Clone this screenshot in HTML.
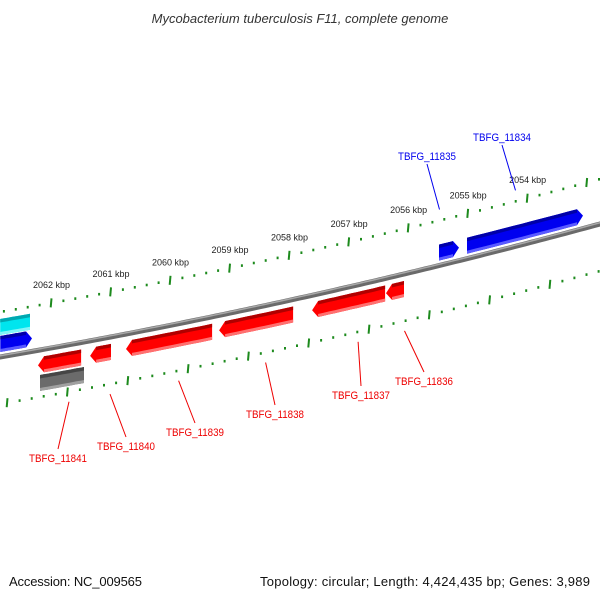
<!DOCTYPE html>
<html><head><meta charset="utf-8"><style>
body{margin:0;background:#fff}
svg{display:block}
</style></head><body>
<svg id="map" width="600" height="600" viewBox="0 0 600 600" xmlns="http://www.w3.org/2000/svg" font-family="Liberation Sans, DejaVu Sans, sans-serif">
<rect width="600" height="600" fill="#fff"/>
<text x="300" y="23" text-anchor="middle" font-size="13" font-style="italic" fill="#333">Mycobacterium tuberculosis F11, complete genome</text>
<g id="ticks"></g><g id="backbone"></g><g id="genes"></g><g id="labels"></g>
<text x="9" y="586" font-size="13" fill="#111" textLength="133">Accession: NC_009565</text>
<text x="590" y="586" text-anchor="end" font-size="13" fill="#111" textLength="330">Topology: circular; Length: 4,424,435 bp; Genes: 3,989</text>
</svg>
<script>
const tickLabelKbp = [2062, 2061, 2060, 2059, 2058, 2057, 2056, 2055, 2054];
const geneNames = ['TBFG_11834','TBFG_11835','TBFG_11836','TBFG_11837','TBFG_11838','TBFG_11839','TBFG_11840','TBFG_11841','gene-cyan','gene-blue-left','gene-gray'];
const geneStart = [2054.795,2055.263,2055.950,2057.182,2058.730,2060.281,2060.880,2061.747,2062.74,2062.60,2061.571];
const geneEnd   = [2052.855,2054.929,2055.650,2055.966,2057.497,2058.847,2060.531,2061.030,2062.24,2062.07,2060.840];
const geneStrand = [1,1,-1,-1,-1,-1,-1,-1,0,1,0];
const geneLabelled = [true,true,true,true,true,true,true,true,false,false,false];
// layout (not data)
const rowOff = {fwd:-13, rev:15};
const labelPos = [[502,141],[427,160],[424,385],[361,399],[275,418],[195,436],[126,450],[58,462]];

const NS='http://www.w3.org/2000/svg';
function mk(tag, attrs, parent){const e=document.createElementNS(NS,tag);for(const k in attrs)e.setAttribute(k,attrs[k]);parent.appendChild(e);return e;}
function yb(x){return 357-0.1717*x-0.0000833*x*x;}
function xAt(k,off){const a=30-0.478*off, s=59.9+0.0087*off;return a+(2062-k)*s;}
function pt(k,off){const x=xAt(k,off);return [x,yb(x)+off];}

// backbone
const bb=document.getElementById('backbone');
let d='';for(let x=-5;x<=605;x+=5){d+=(x===-5?'M':'L')+x+','+yb(x).toFixed(2)+' ';}
let p=mk('path',{d:d,stroke:'#6a6a6a','stroke-width':5,fill:'none'},bb);

p=mk('path',{d:d,stroke:'#a8a8a8','stroke-width':1.5,fill:'none',transform:'translate(0,-1.3)'},bb);


// ticks
const tg=document.getElementById('ticks');
[-45,47].forEach((off,ti)=>{
  for(let i=0;i<=60;i++){
    const k=2064-i*0.2;const major=Math.abs(k-Math.round(k))<0.01;
    const [x,y]=pt(k,off);if(x<-2||x>602)continue;
    const h=major?4.5:1.3;
    const l=mk('line',{x1:x.toFixed(1),y1:(y-h).toFixed(1),x2:(x+(major?-0.8:0)).toFixed(1),y2:(y+h).toFixed(1),stroke:'#1d8a1d','stroke-width':2},tg);
    
    
  }
});
tickLabelKbp.forEach(k=>{const [x,y]=pt(k,-45);
  const t=mk('text',{x:x.toFixed(1),y:(y-15).toFixed(1),'text-anchor':'middle','font-size':9,fill:'#222'},tg);
  t.textContent=k+' kbp';
  
  
});

// genes (x mapping fixed at row centre so ends stay upright)
const gg=document.getElementById('genes');
function P(k,rowC,off){const x=xAt(k,rowC);return [x,yb(x)+off];}
function band(k1,k2,rowC,o1,o2){let pts=[];const n=12;for(let i=0;i<=n;i++)pts.push(P(k1+(k2-k1)*i/n,rowC,o1));for(let i=n;i>=0;i--)pts.push(P(k1+(k2-k1)*i/n,rowC,o2));return pts;}
function fmt(pts){return pts.map(q=>q[0].toFixed(1)+','+q[1].toFixed(1)).join(' ');}
geneNames.forEach((name,i)=>{
  let off, fill, dark, light;
  const st=geneStrand[i];
  if(name==='gene-cyan'){off=-30;fill='#00e5ee';dark='#00a8b0';light='#80f4f8';}
  else if(name==='gene-gray'){off=33;fill='#6b6b6b';dark='#454545';light='#a0a0a0';}
  else if(st===1){off=rowOff.fwd;fill='#0000f0';dark='#0000a8';light='#5a5aff';}
  else {off=rowOff.rev;fill='#ff0000';dark='#b00000';light='#ff7070';}
  const hh=8;
  const k1=geneStart[i],k2=geneEnd[i];
  const tipK=0.1;
  let bodyA=k1,bodyB=k2;
  if(st===1)bodyB=k2+tipK; if(st===-1)bodyA=k1-tipK;
  let pts=[];const n=12;
  for(let j=0;j<=n;j++)pts.push(P(bodyA+(bodyB-bodyA)*j/n,off,off-hh));
  if(st===1)pts.push(P(k2,off,off));
  for(let j=n;j>=0;j--)pts.push(P(bodyA+(bodyB-bodyA)*j/n,off,off+hh));
  if(st===-1)pts.push(P(k1,off,off));
  const g=mk('g',{},gg);
  
  
  mk('polygon',{points:fmt(pts),fill:fill},g);
  mk('polygon',{points:fmt(band(bodyA,bodyB,off,off-hh,off-hh+3.5)),fill:dark},g);
  mk('polygon',{points:fmt(band(bodyA,bodyB,off,off+hh-3,off+hh)),fill:light},g);
});

// labels
const lg=document.getElementById('labels');
geneNames.forEach((name,i)=>{
  if(!geneLabelled[i])return;
  const st=geneStrand[i];
  const col=st===1?'#0000ee':'#ee0000';
  const off=st===1?rowOff.fwd:rowOff.rev;
  const cx=xAt((geneStart[i]+geneEnd[i])/2,off)-9.5*st;
  const ay=yb(cx)+(st===1?-56:57);
  const [lx,ly]=labelPos[i];
  const ly0=st===1?ly+4:ly-13;
  const l=mk('line',{x1:cx.toFixed(1),y1:ay.toFixed(1),x2:lx,y2:ly0,stroke:col,'stroke-width':1},lg);
  
  
  const t=mk('text',{x:lx,y:ly,'text-anchor':'middle','font-size':11,fill:col,textLength:58,lengthAdjust:'spacingAndGlyphs'},lg);
  t.textContent=name;
  
  
});
</script>
</body></html>
